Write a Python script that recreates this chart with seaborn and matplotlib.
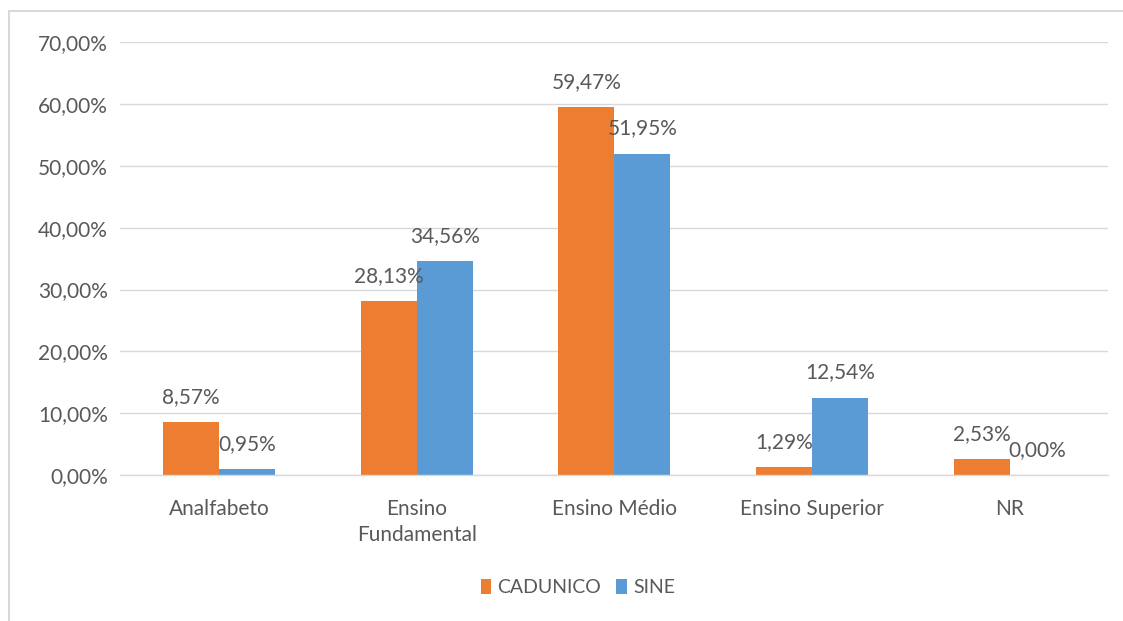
import matplotlib
matplotlib.use("Agg")
import matplotlib.pyplot as plt
import seaborn as sns
import pandas as pd
from matplotlib.patches import Rectangle

categories = ["Analfabeto", "Ensino\nFundamental", "Ensino Médio", "Ensino Superior", "NR"]
cadunico = [8.57, 28.13, 59.47, 1.29, 2.53]
sine = [0.95, 34.56, 51.95, 12.54, 0.00]
series = ["CADUNICO", "SINE"]
yticks = [0, 10, 20, 30, 40, 50, 60, 70]

df = pd.DataFrame({
    "cat": categories * 2,
    "val": cadunico + sine,
    "serie": [series[0]] * len(categories) + [series[1]] * len(categories),
})

sns.set_theme(style="white")
plt.rcParams["font.family"] = ["Lato", "DejaVu Sans"]
txt = "#595959"
grid = "#d9d9d9"
fs = 15

fig = plt.figure(figsize=(11.23, 6.21), dpi=100)
ax = fig.add_axes([0.107, 0.235, 0.880, 0.697])

sns.barplot(data=df, x="cat", y="val", hue="serie", order=categories,
            hue_order=series, palette=["#ED7D31", "#5B9BD5"],
            width=0.566, saturation=1, linewidth=0, ax=ax, legend=True)

ax.set_ylim(0, 70)
ax.set_yticks(yticks)
ax.set_yticklabels([f"{v:.2f}%".replace(".", ",") for v in yticks])
ax.yaxis.grid(True, color=grid, linewidth=1)
ax.set_axisbelow(True)
for s in ["top", "right", "left"]:
    ax.spines[s].set_visible(False)
ax.spines["bottom"].set_color(grid)
ax.spines["bottom"].set_linewidth(1)
ax.tick_params(axis="both", length=0, colors=txt, labelsize=fs)
ax.tick_params(axis="y", pad=9)
ax.tick_params(axis="x", pad=17)
for t in ax.get_xticklabels():
    t.set_linespacing(1.4)
ax.set_xlabel("")
ax.set_ylabel("")
ax.set_xlim(-0.5, len(categories) - 0.5)

for cont in ax.containers:
    labels = [f"{v:.2f}%".replace(".", ",") for v in cont.datavalues]
    ax.bar_label(cont, labels=labels, padding=11, color=txt, fontsize=fs)

leg = ax.legend(loc="upper center", bbox_to_anchor=(0.463, -0.2), ncol=2,
                frameon=False, fontsize=14, handlelength=0.55, handleheight=0.8,
                handletextpad=0.3, columnspacing=0.8)
for t in leg.get_texts():
    t.set_color(txt)

fig.patches.append(Rectangle((9 / 1123, -0.1), 1.2, 1 - 11 / 621 + 0.1,
                             transform=fig.transFigure, fill=False,
                             edgecolor=grid, linewidth=1.5))

fig.savefig("out.png", dpi=100)
